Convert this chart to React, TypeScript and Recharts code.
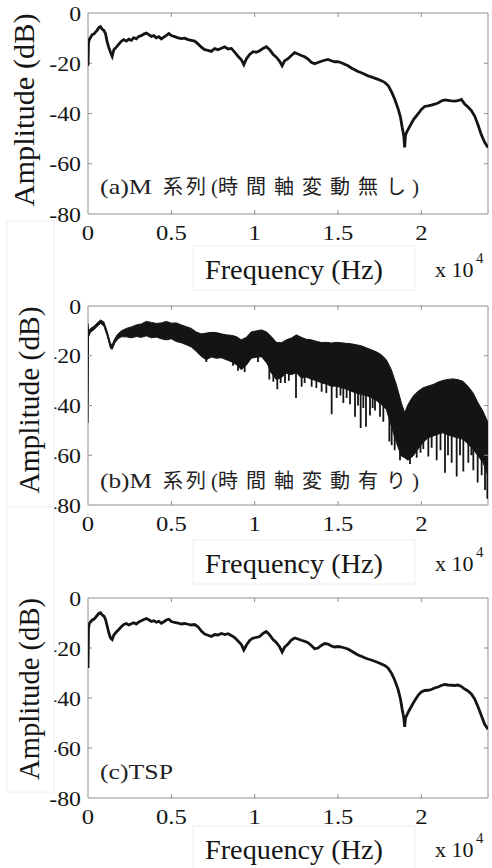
import React from 'react';
import { ComposedChart, Line, Area, XAxis, YAxis, ReferenceLine, ReferenceArea } from 'recharts';

// ---------- axis ticks ----------
const X_TICKS = [0, 5000, 10000, 15000, 20000];
const X_TICK_LABELS = ['0', '0.5', '1', '1.5', '2'];
const Y_TICKS = [-80, -60, -40, -20, 0];
const Y_TICK_LABELS = ['-80', '-60', '-40', '-20', '0'];
const X_INNER_TICKS = [5000, 10000, 15000, 20000];
const Y_INNER_TICKS = [-60, -40, -20];

// ---------- panel (a) & (c): frequency grid (Hz) ----------
const FREQ_AC = [
  0, 30, 80, 150, 250, 350, 450, 550, 650, 750,
  850, 950, 1050, 1150, 1250, 1350, 1450, 1550, 1700, 1850,
  2000, 2150, 2300, 2450, 2600, 2750, 2900, 3050, 3200, 3350,
  3500, 3650, 3800, 3950, 4100, 4250, 4400, 4550, 4700, 4850,
  5000, 5200, 5400, 5600, 5800, 6000, 6200, 6400, 6600, 6800,
  7000, 7200, 7400, 7600, 7800, 8000, 8200, 8400, 8600, 8800,
  9000, 9200, 9350, 9500, 9700, 9900, 10100, 10300, 10500, 10700,
  10900, 11100, 11300, 11500, 11650, 11800, 12000, 12200, 12400, 12600,
  12800, 13000, 13200, 13400, 13600, 13800, 14000, 14200, 14400, 14600,
  14800, 15000, 15200, 15400, 15600, 15800, 16000, 16200, 16400, 16600,
  16800, 17000, 17200, 17400, 17600, 17800, 18000, 18200, 18400, 18600,
  18750, 18850, 18950, 19000, 19050, 19150, 19250, 19400, 19550, 19700,
  19850, 20000, 20200, 20400, 20600, 20800, 21000, 21200, 21400, 21600,
  21800, 22000, 22200, 22400, 22600, 22800, 23000, 23200, 23400, 23600,
  23800, 24000,
];

// (a) M系列 (時間軸変動無し) amplitude, dB
const AMP_A = [
  -21, -12, -10.5, -9.8, -8.6, -8.4, -7.6, -6.9, -5.8, -5.4,
  -6.5, -6.9, -8.2, -11.5, -13.8, -15.6, -17.2, -14.6, -13.6, -12.4,
  -11.3, -10.6, -11.2, -10.4, -10.9, -9.8, -10.3, -9.3, -9.0, -8.4,
  -8.0, -8.6, -9.3, -9.0, -9.9, -9.4, -10.3, -9.6, -8.9, -8.2,
  -9.0, -9.4, -9.9, -10.2, -10.0, -10.6, -10.9, -11.2, -12.3, -13.6,
  -14.6, -14.9, -15.3, -14.2, -14.6, -14.0, -13.5, -14.3, -14.1, -15.6,
  -17.2, -18.6, -20.6, -18.3, -16.5, -15.4, -15.6, -15.0, -14.1, -13.4,
  -14.6, -16.4, -17.6, -19.2, -21.0, -19.0, -18.2, -16.9, -15.8, -16.3,
  -16.9, -17.4, -18.3, -19.6, -20.2, -19.7, -19.2, -18.8, -18.5, -19.0,
  -19.4, -19.4, -19.8, -20.4, -21.0, -21.9, -22.6, -23.3, -23.8, -24.4,
  -25.0, -25.4, -25.9, -26.4, -27.0, -27.6, -28.8, -31.2, -34.2, -38.0,
  -41.5, -45.5, -49.0, -53.5, -48.5, -47.0, -45.8, -44.0, -42.2, -41.0,
  -39.8, -38.4, -37.2, -37.0, -36.7, -36.3, -35.8, -35.0, -34.6, -34.8,
  -35.0, -35.1, -34.9, -34.4, -36.2, -37.4, -38.8, -41.0, -44.5, -48.5,
  -51.5, -53.5,
];

// (c) TSP amplitude, dB
const AMP_C = [
  -28, -12, -10.2, -9.6, -8.8, -8.5, -7.8, -7.0, -6.2, -5.9,
  -6.8, -7.2, -8.6, -11.2, -13.9, -16.0, -16.6, -14.8, -13.6, -12.6,
  -11.5, -10.6, -10.2, -10.8, -10.3, -9.9, -10.4, -9.6, -9.1, -8.6,
  -8.2, -8.7, -9.4, -9.1, -9.7, -9.3, -10.1, -9.5, -8.8, -8.5,
  -9.4, -9.8, -10.0, -10.4, -10.2, -10.5, -10.8, -10.6, -11.5, -13.2,
  -14.4, -14.9, -15.4, -14.6, -14.8, -14.2, -14.6, -14.3, -15.0, -15.8,
  -17.2, -18.6, -20.8, -18.9, -17.0, -16.0, -15.8, -15.4, -14.2, -13.4,
  -14.8, -16.6, -17.8, -19.6, -21.6, -19.6, -18.4, -16.8, -16.0, -16.4,
  -16.9, -17.3, -17.9, -19.0, -20.3, -20.0, -19.0, -18.2, -18.4, -19.2,
  -19.6, -19.4, -19.6, -20.0, -20.4, -21.2, -22.0, -22.8, -23.3, -23.9,
  -24.4, -24.8, -25.3, -25.8, -26.4, -27.0, -28.0, -30.0, -32.8, -36.5,
  -40.5, -44.5, -48.0, -51.5, -48.0, -46.6, -45.2, -43.4, -41.6, -40.0,
  -38.6, -37.6, -37.0, -36.9, -36.6, -36.0, -35.6, -35.0, -34.6, -34.8,
  -34.9, -35.0, -34.8, -35.4, -36.4, -37.2, -38.4, -40.4, -43.5, -47.0,
  -50.5, -52.5,
];

// ---------- panel (b): M系列 (時間軸変動有り) envelope ----------
const FREQ_B = [
  0, 30, 150, 350, 550, 750, 950, 1150, 1350, 1450,
  1600, 1800, 2000, 2300, 2600, 2900, 3200, 3500, 3800, 4100,
  4400, 4700, 5000, 5300, 5600, 5900, 6200, 6500, 6800, 7100,
  7400, 7700, 8000, 8300, 8600, 8900, 9200, 9500, 9800, 10100,
  10400, 10700, 11000, 11300, 11600, 11900, 12200, 12500, 12800, 13100,
  13400, 13700, 14000, 14300, 14600, 14900, 15200, 15500, 15800, 16100,
  16400, 16700, 17000, 17300, 17600, 17900, 18200, 18500, 18800, 19000,
  19200, 19500, 19800, 20100, 20400, 20700, 21000, 21300, 21600, 21900,
  22200, 22500, 22800, 23100, 23400, 23700, 24000,
];
const B_HI = [
  -7, -10, -9.0, -8.2, -6.8, -5.6, -6.4, -10.2, -15.0, -15.6,
  -13.2, -11.2, -10.0, -9.0, -8.4, -7.6, -7.2, -6.2, -6.6, -7.0,
  -6.8, -6.2, -6.9, -6.8, -7.6, -8.3, -9.0, -10.5, -11.2, -10.9,
  -10.6, -10.7, -11.2, -11.6, -11.8, -12.3, -13.6, -12.6, -10.4, -10.0,
  -9.6, -10.4, -12.3, -14.6, -14.8, -13.6, -12.9, -11.6, -12.6, -13.4,
  -13.6, -14.2, -14.7, -14.6, -14.9, -14.6, -14.8, -15.0, -15.2, -15.6,
  -16.0, -16.8, -17.6, -18.4, -19.6, -21.6, -25.6, -31.6, -38.9, -42.9,
  -39.6, -36.3, -34.3, -32.9, -32.2, -31.6, -30.6, -29.9, -29.5, -29.3,
  -29.6, -30.3, -32.3, -34.9, -38.9, -42.3, -46.9,
];
const B_LO = [
  -47, -12.5, -10.5, -9.6, -8.2, -7.0, -8.0, -12.0, -17.0, -17.4,
  -15.0, -13.2, -12.4, -12.4, -12.8, -12.3, -12.6, -12.0, -12.8, -12.5,
  -13.2, -13.6, -13.2, -14.3, -14.8, -15.6, -16.5, -18.3, -20.3, -21.6,
  -20.5, -21.0, -20.8, -21.6, -22.4, -23.6, -25.6, -23.8, -21.0, -20.6,
  -20.4, -22.3, -26.9, -29.6, -28.8, -27.0, -27.6, -26.8, -28.9, -28.6,
  -29.4, -30.0, -30.9, -31.4, -32.3, -32.2, -32.9, -33.4, -34.3, -35.0,
  -35.6, -36.0, -36.9, -38.0, -39.6, -41.6, -48.3, -54.9, -60.3, -61.0,
  -62.0, -60.3, -57.6, -54.9, -53.0, -52.3, -51.5, -51.0, -51.8, -52.5,
  -53.0, -53.6, -55.5, -57.5, -60.3, -62.9, -68.3,
];

// downward dips of panel (b): frequency, start inside band, lowest value
const SPIKE_F = [
  7100, 8700, 9000, 9400, 10200, 10880, 11120, 11360, 11560, 11820,
  12050, 12480, 12820, 13000, 13420, 13700, 14020, 14300, 14620, 14920,
  15150, 15320, 15520, 15720, 16020, 16200, 16360, 16520, 16680, 16920,
  17080, 17220, 17520, 17720, 18080, 18220, 18400, 18720, 19320, 19720,
  19950, 20120, 20420, 20620, 20920, 21150, 21420, 21600, 21820, 22120,
  22320, 22520, 22820, 23000, 23120, 23380, 23620, 23820, 23960,
];
const SPIKE_TOP = [
  -18, -20, -22, -22, -18, -24, -25, -27, -26, -25,
  -25, -24, -26, -26, -27, -27, -28, -28, -29, -29,
  -30, -30, -31, -31, -32, -32, -33, -33, -33, -34,
  -35, -35, -37, -38, -42, -45, -50, -57, -58, -54,
  -53, -51, -50, -49, -48, -48, -48, -49, -49, -50,
  -50, -50, -52, -53, -54, -57, -59, -62, -65,
];
const SPIKE_BOT = [
  -22.5, -24, -26, -26.5, -22.5, -29.5, -30.5, -33.5, -31, -31,
  -30, -37, -32.5, -31, -32.5, -33, -34.5, -35, -43.5, -37,
  -36, -39, -37, -39.5, -44.5, -40, -49, -41, -48.5, -44,
  -41, -42, -44.5, -46.5, -54.5, -56, -58, -62, -63.5, -61,
  -59, -57.5, -60.5, -57, -62, -58, -67, -60, -63, -68.5,
  -60, -66.5, -63, -60, -66, -71, -68, -74, -77.5,
];

// ---------- derived tables ----------
const dataA = FREQ_AC.map((f, i) => ({ f, v: AMP_A[i] }));
const dataC = FREQ_AC.map((f, i) => ({ f, v: AMP_C[i] }));
const dataB = FREQ_B.map((f, i) => ({ f, r: [B_LO[i], B_HI[i]] }));
const dataSpikes = SPIKE_F.flatMap((f, i) => [
  { f, v: SPIKE_TOP[i] },
  { f, v: SPIKE_BOT[i] },
  { f, v: SPIKE_TOP[i] },
]);

const SERIF = 'Liberation Serif, DejaVu Serif, serif';
const CJK = 'Noto Sans CJK JP, Noto Sans CJK SC, sans-serif';
const INK = '#141414';
const TXT = '#151515';
const FRAME = '#8e8e8e';

const XTick = (p: any) => {
  const idx = X_TICKS.indexOf(p.payload.value);
  return (
    <g transform={`translate(${p.x},${p.y})`}>
      <text x={0} y={26} textAnchor="middle" style={{ fontFamily: SERIF, fontSize: 22 }} fill={TXT} transform="scale(1.12,1)">
        {X_TICK_LABELS[idx]}
      </text>
    </g>
  );
};

const YTick = (p: any) => {
  const idx = Y_TICKS.indexOf(p.payload.value);
  return (
    <g transform={`translate(${p.x - 7},${p.y})`}>
      <text x={0} y={7.5} textAnchor="end" style={{ fontFamily: SERIF, fontSize: 22 }} fill={TXT} transform="scale(1.08,1)">
        {Y_TICK_LABELS[idx]}
      </text>
    </g>
  );
};

function Panel({ plotTop, plotH, series }: { plotTop: number; plotH: number; series: React.ReactNode[] }) {
  const mTop = 13;
  return (
    <div style={{ position: 'absolute', left: 0, top: plotTop - mTop }}>
      <ComposedChart width={492} height={mTop + plotH + 40} margin={{ top: mTop, right: 4, left: 0, bottom: 0 }}>
        <XAxis
          dataKey="f" type="number" domain={[0, 24000]} ticks={X_TICKS} interval={0}
          tick={<XTick />} tickLine={false} tickSize={0} tickMargin={0} axisLine={false}
          height={40} allowDataOverflow
        />
        <YAxis
          type="number" domain={[-80, 0]} ticks={Y_TICKS} interval={0}
          tick={<YTick />} tickLine={false} tickSize={0} tickMargin={0} axisLine={false}
          width={88} allowDataOverflow
        />
        <ReferenceArea x1={0} x2={24000} y1={-80} y2={0} fill="#ffffff" fillOpacity={0} stroke={FRAME} strokeWidth={1} ifOverflow="visible" />
        {X_INNER_TICKS.map((t) => (
          <ReferenceLine key={'xb' + t} segment={[{ x: t, y: -80 }, { x: t, y: -78.4 }]} stroke={FRAME} ifOverflow="visible" />
        ))}
        {X_INNER_TICKS.map((t) => (
          <ReferenceLine key={'xt' + t} segment={[{ x: t, y: 0 }, { x: t, y: -1.6 }]} stroke={FRAME} ifOverflow="visible" />
        ))}
        {Y_INNER_TICKS.map((t) => (
          <ReferenceLine key={'yl' + t} segment={[{ x: 0, y: t }, { x: 240, y: t }]} stroke={FRAME} ifOverflow="visible" />
        ))}
        {Y_INNER_TICKS.map((t) => (
          <ReferenceLine key={'yr' + t} segment={[{ x: 24000, y: t }, { x: 23760, y: t }]} stroke={FRAME} ifOverflow="visible" />
        ))}
        {series}
      </ComposedChart>
    </div>
  );
}

function YLabel({ x, cy, len }: { x: number; cy: number; len: number }) {
  return (
    <text
      transform={`translate(${x},${cy}) rotate(-90)`} textAnchor="middle"
      style={{ fontFamily: SERIF, fontSize: 29 }} fill={TXT} textLength={len} lengthAdjust="spacingAndGlyphs"
    >
      Amplitude (dB)
    </text>
  );
}

function XLabel({ base }: { base: number }) {
  return (
    <g>
      <rect x={193} y={base - 33} width={222} height={44} fill="#ffffff" stroke="#efefef" />
      <text x={205} y={base} style={{ fontFamily: SERIF, fontSize: 27 }} fill={TXT} textLength={178} lengthAdjust="spacingAndGlyphs">
        Frequency (Hz)
      </text>
      <text x={435} y={base - 2} style={{ fontFamily: SERIF, fontSize: 22 }} fill={TXT}>x 10</text>
      <text x={476} y={base - 16} style={{ fontFamily: SERIF, fontSize: 15 }} fill={TXT}>4</text>
    </g>
  );
}

function Annot({ base, prefix, cjk }: { base: number; prefix: string; cjk: string }) {
  return (
    <g fill="#222">
      <text x={100} y={base} style={{ fontFamily: SERIF, fontSize: 21 }} textLength={52} lengthAdjust="spacingAndGlyphs">{prefix}</text>
      <text x="163 186" y={base} style={{ fontFamily: CJK, fontSize: 20 }}>系列</text>
      <text x={211} y={base} style={{ fontFamily: SERIF, fontSize: 21 }}>(</text>
      <text x="218 246 274 302 330 358 386" y={base} style={{ fontFamily: CJK, fontSize: 20 }}>{cjk}</text>
      <text x={412} y={base} style={{ fontFamily: SERIF, fontSize: 21 }}>)</text>
    </g>
  );
}

export default function App() {
  return (
    <div style={{ position: 'absolute', left: 0, top: 0, width: 492, height: 868, background: '#ffffff', overflow: 'hidden' }}>
      <Panel
        plotTop={13} plotH={201}
        series={[
          <Line key="a" data={dataA} dataKey="v" type="linear" stroke={INK} strokeWidth={2.8} dot={false} isAnimationActive={false} />,
        ]}
      />
      <Panel
        plotTop={306} plotH={199}
        series={[
          <Area key="b" data={dataB} dataKey="r" type="linear" stroke={INK} strokeWidth={1} fill={INK} fillOpacity={1} dot={false} activeDot={false} isAnimationActive={false} />,
          <Line key="bs" data={dataSpikes} dataKey="v" type="linear" stroke={INK} strokeWidth={1.8} dot={false} isAnimationActive={false} />,
        ]}
      />
      <Panel
        plotTop={598} plotH={200}
        series={[
          <Line key="c" data={dataC} dataKey="v" type="linear" stroke={INK} strokeWidth={2.8} dot={false} isAnimationActive={false} />,
        ]}
      />
      <svg width={492} height={868} style={{ position: 'absolute', left: 0, top: 0, pointerEvents: 'none' }}>
        <rect x={7} y={221} width={47} height={286} fill="#ffffff" stroke="#f0f0f0" />
        <rect x={7} y={507} width={47} height={285} fill="#ffffff" stroke="#f0f0f0" />
        <YLabel x={34} cy={110} len={193} />
        <YLabel x={39} cy={400} len={187} />
        <YLabel x={39} cy={689} len={182} />
        <XLabel base={279} />
        <XLabel base={573} />
        <XLabel base={859} />
        <Annot base={194} prefix="(a)M" cjk="時間軸変動無し" />
        <Annot base={488} prefix="(b)M" cjk="時間軸変動有り" />
        <text x={100} y={779} style={{ fontFamily: SERIF, fontSize: 21 }} fill="#222" textLength={73} lengthAdjust="spacingAndGlyphs">(c)TSP</text>
      </svg>
    </div>
  );
}
